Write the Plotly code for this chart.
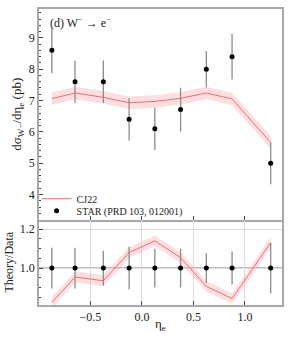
import plotly.graph_objects as go
from plotly.subplots import make_subplots

# ---- data ----
eta = [-0.875, -0.65, -0.375, -0.125, 0.125, 0.375, 0.625, 0.875, 1.25]
star_val = [8.6, 7.6, 7.6, 6.4, 6.1, 6.71, 8.0, 8.4, 5.0]
star_err = [0.73, 0.68, 0.68, 0.68, 0.68, 0.70, 0.58, 0.73, 0.67]
cj22_val = [7.06, 7.24, 7.1, 6.93, 6.97, 7.07, 7.24, 7.05, 5.66]
cj22_err = [0.2, 0.2, 0.2, 0.2, 0.2, 0.2, 0.2, 0.2, 0.2]
ratio_val = [0.823, 0.954, 0.935, 1.08, 1.14, 1.054, 0.906, 0.843, 1.131]
ratio_band = [0.028, 0.028, 0.028, 0.028, 0.028, 0.028, 0.028, 0.028, 0.028]
ratio_data = [1.0, 1.0, 1.0, 1.0, 1.0, 1.0, 1.0, 1.0, 1.0]
ratio_err = [0.105, 0.105, 0.09, 0.11, 0.10, 0.10, 0.077, 0.085, 0.13]
x_ticks = [-0.5, 0.0, 0.5, 1.0]
x_ticklabels = ["−0.5", "0.0", "0.5", "1.0"]
top_ticks = [4, 5, 6, 7, 8, 9]
ratio_ticks = [1.0, 1.2]
ratio_ticklabels = ["1.0", "1.2"]

FONT = "Liberation Serif, Times New Roman, serif"
RED = "rgb(240,110,110)"
BAND = "rgba(255,160,170,0.35)"
FRAME = "#a8a8a8"
TXT = "#222222"

fig = make_subplots(rows=2, cols=1, shared_xaxes=True, vertical_spacing=0,
                    row_heights=[0.7114, 0.2886])

# top panel band
fig.add_trace(go.Scatter(x=eta, y=[v + e for v, e in zip(cj22_val, cj22_err)],
                         mode="lines", line=dict(width=0), showlegend=False,
                         hoverinfo="skip"), row=1, col=1)
fig.add_trace(go.Scatter(x=eta, y=[v - e for v, e in zip(cj22_val, cj22_err)],
                         mode="lines", line=dict(width=0), fill="tonexty",
                         fillcolor=BAND, showlegend=False, hoverinfo="skip"),
              row=1, col=1)
fig.add_trace(go.Scatter(x=eta, y=cj22_val, mode="lines", name="CJ22",
                         legend="legend",
                         line=dict(color=RED, width=1)), row=1, col=1)
fig.add_trace(go.Scatter(x=eta, y=star_val, mode="markers",
                         name="STAR (PRD 103, 012001)", legend="legend2",
                         marker=dict(color="black", size=5),
                         error_y=dict(type="data", array=star_err, color="#8c8c8c",
                                      thickness=1.3, width=0)), row=1, col=1)

# ratio panel
fig.add_trace(go.Scatter(x=eta, y=[v + e for v, e in zip(ratio_val, ratio_band)],
                         mode="lines", line=dict(width=0), showlegend=False,
                         hoverinfo="skip"), row=2, col=1)
fig.add_trace(go.Scatter(x=eta, y=[v - e for v, e in zip(ratio_val, ratio_band)],
                         mode="lines", line=dict(width=0), fill="tonexty",
                         fillcolor=BAND, showlegend=False, hoverinfo="skip"),
              row=2, col=1)
fig.add_trace(go.Scatter(x=eta, y=ratio_val, mode="lines", showlegend=False,
                         line=dict(color=RED, width=1)), row=2, col=1)
fig.add_trace(go.Scatter(x=eta, y=ratio_data, mode="markers", showlegend=False,
                         marker=dict(color="black", size=5),
                         error_y=dict(type="data", array=ratio_err, color="#8c8c8c",
                                      thickness=1.3, width=0)), row=2, col=1)

fig.add_hline(y=1.0, line=dict(color="#555555", width=1), row=2, col=1, layer="below")

axis_common = dict(showline=True, linecolor=FRAME, linewidth=1.5,
                   ticks="inside", tickcolor="#444", ticklen=4,
                   tickfont=dict(family=FONT, size=12, color=TXT),
                   zeroline=False)

fig.update_xaxes(range=[-1.0, 1.36], tickvals=x_ticks, ticktext=x_ticklabels,
                 showgrid=False, mirror=True, **axis_common, row=1, col=1)
fig.update_xaxes(range=[-1.0, 1.36], tickvals=x_ticks, ticktext=x_ticklabels,
                 showgrid=True, gridcolor="#dddddd", gridwidth=1, mirror=False,
                 **axis_common, row=2, col=1)
fig.update_yaxes(range=[3.2, 9.92], tickvals=top_ticks, showgrid=False, mirror=True,
                 minor=dict(dtick=0.2, ticks="inside", ticklen=2, tickcolor="#444"),
                 title=dict(text="dσ<sub>W−</sub>/dη<sub>e</sub> (pb)",
                            font=dict(family=FONT, size=13, color=TXT), standoff=4),
                 **axis_common, row=1, col=1)
fig.update_yaxes(range=[0.81, 1.25], tickvals=ratio_ticks, ticktext=ratio_ticklabels,
                 showgrid=True, gridcolor="#dddddd", gridwidth=1, mirror=True,
                 minor=dict(tickvals=[0.85, 0.9, 0.95, 1.05, 1.1, 1.15], ticks="inside",
                            ticklen=2, tickcolor="#444", showgrid=False),
                 title=dict(text="Theory/Data", font=dict(family=FONT, size=12, color=TXT),
                            standoff=4),
                 **axis_common, row=2, col=1)

fig.add_annotation(text="(d) W<sup>−</sup> → e<sup>−</sup>", xref="paper", yref="paper",
                   x=0.035, y=0.985, xanchor="left", yanchor="top", showarrow=False,
                   font=dict(family=FONT, size=12, color=TXT))
fig.add_annotation(text="η<sub>e</sub>", xref="paper", yref="paper",
                   x=0.5, y=-0.065, xanchor="center", yanchor="middle", showarrow=False,
                   font=dict(family=FONT, size=13, color=TXT))

leg_common = dict(xanchor="left", yanchor="middle", bgcolor="rgba(0,0,0,0)",
                  font=dict(family=FONT, size=10, color=TXT), itemwidth=30,
                  borderwidth=0)
fig.update_layout(
    width=291, height=339,
    margin=dict(l=38, r=8, t=7, b=34),
    paper_bgcolor="white", plot_bgcolor="white",
    font=dict(family=FONT, color=TXT),
    legend=dict(x=-0.01, y=(305 - 198) / 298, **leg_common),
    legend2=dict(x=-0.01, y=(305 - 210) / 298, **leg_common),
)

fig.write_html("out.html", config={"displayModeBar": False},
               post_script="document.body.style.margin='0';document.body.style.padding='0';")
